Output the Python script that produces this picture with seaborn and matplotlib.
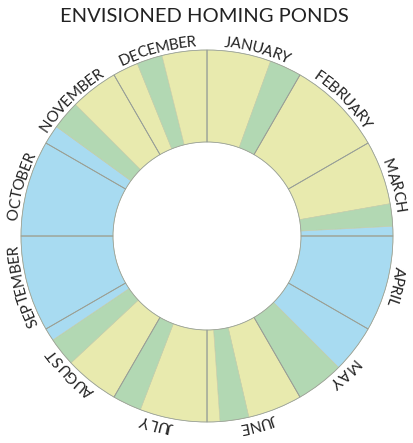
import numpy as np
import matplotlib
matplotlib.use("Agg")
import matplotlib.pyplot as plt
import seaborn as sns

# months clockwise from the top
MONTHS = ["JANUARY", "FEBRUARY", "MARCH", "APRIL", "MAY", "JUNE",
          "JULY", "AUGUST", "SEPTEMBER", "OCTOBER", "NOVEMBER", "DECEMBER"]

# segments inside each month, in degrees (each month sums to 30)
SEG_MONTH = [0, 0, 1, 2, 2, 2, 3, 4, 4, 5, 5, 5, 6, 6, 7, 7, 7, 8, 9, 10, 10, 10, 11, 11, 11]
SEG_KIND = ["Y", "G", "Y", "Y", "G", "B", "B", "B", "G", "Y", "G", "Y",
            "Y", "G", "Y", "G", "B", "B", "B", "B", "G", "Y", "Y", "G", "Y"]
SEG_DEG = [20, 10, 30, 20, 7, 3, 30, 15, 15, 17, 9, 4,
           21, 9, 17, 9, 4, 30, 30, 6, 9, 15, 8, 8, 14]

KIND_COLORS = {"Y": "#e8eaae", "G": "#b2d8b3", "B": "#a8dbf1"}

TITLE = "ENVISIONED HOMING PONDS"

sns.set_style("white")
plt.rcParams["font.family"] = ["Lato", "DejaVu Sans"]

W, H = 414, 443
CX, CY = 207, H - 236
R_OUT, R_IN = 186, 94

fig = plt.figure(figsize=(W / 100, H / 100), dpi=100)
ax = fig.add_axes([0, 0, 1, 1])

seg_colors = [KIND_COLORS[k] for k in SEG_KIND]
ax.pie(SEG_DEG, colors=seg_colors, startangle=90, counterclock=False,
       radius=R_OUT, center=(CX, CY),
       wedgeprops=dict(width=R_OUT - R_IN, linewidth=0.4, edgecolor="#c4cba8"))

# month outlines on top
ax.pie([30] * 12, colors=["none"] * 12, startangle=90, counterclock=False,
       radius=R_OUT, center=(CX, CY),
       wedgeprops=dict(width=R_OUT - R_IN, linewidth=0.55, edgecolor="#979e97", fill=False))

ax.set_xlim(0, W)
ax.set_ylim(0, H)
ax.set_aspect("equal")
ax.axis("off")

ax.text(W / 2 - 3, H - 16, TITLE, ha="center", va="center", fontsize=14.5, color="#222222")

# curved month labels, letter tops pointing outward
renderer = fig.canvas.get_renderer()
r_base = 190
label_fs = 11
track = -0.2
for i, name in enumerate(MONTHS):
    widths = []
    for ch in name:
        t = ax.text(0, 0, ch, fontsize=label_fs)
        bb = t.get_window_extent(renderer=renderer)
        widths.append(bb.width + track)
        t.remove()
    r_mid = r_base + 5
    total = sum(widths) / r_mid
    center = np.radians(15 + 30 * i)
    a = center - total / 2
    for ch, w in zip(name, widths):
        th = a + (w / r_mid) / 2
        x = CX + r_base * np.sin(th)
        y = CY + r_base * np.cos(th)
        ax.text(x, y, ch, fontsize=label_fs, color="#222222", ha="center", va="baseline",
                rotation=-np.degrees(th), rotation_mode="anchor")
        a += w / r_mid

fig.savefig("out.png", dpi=100)
